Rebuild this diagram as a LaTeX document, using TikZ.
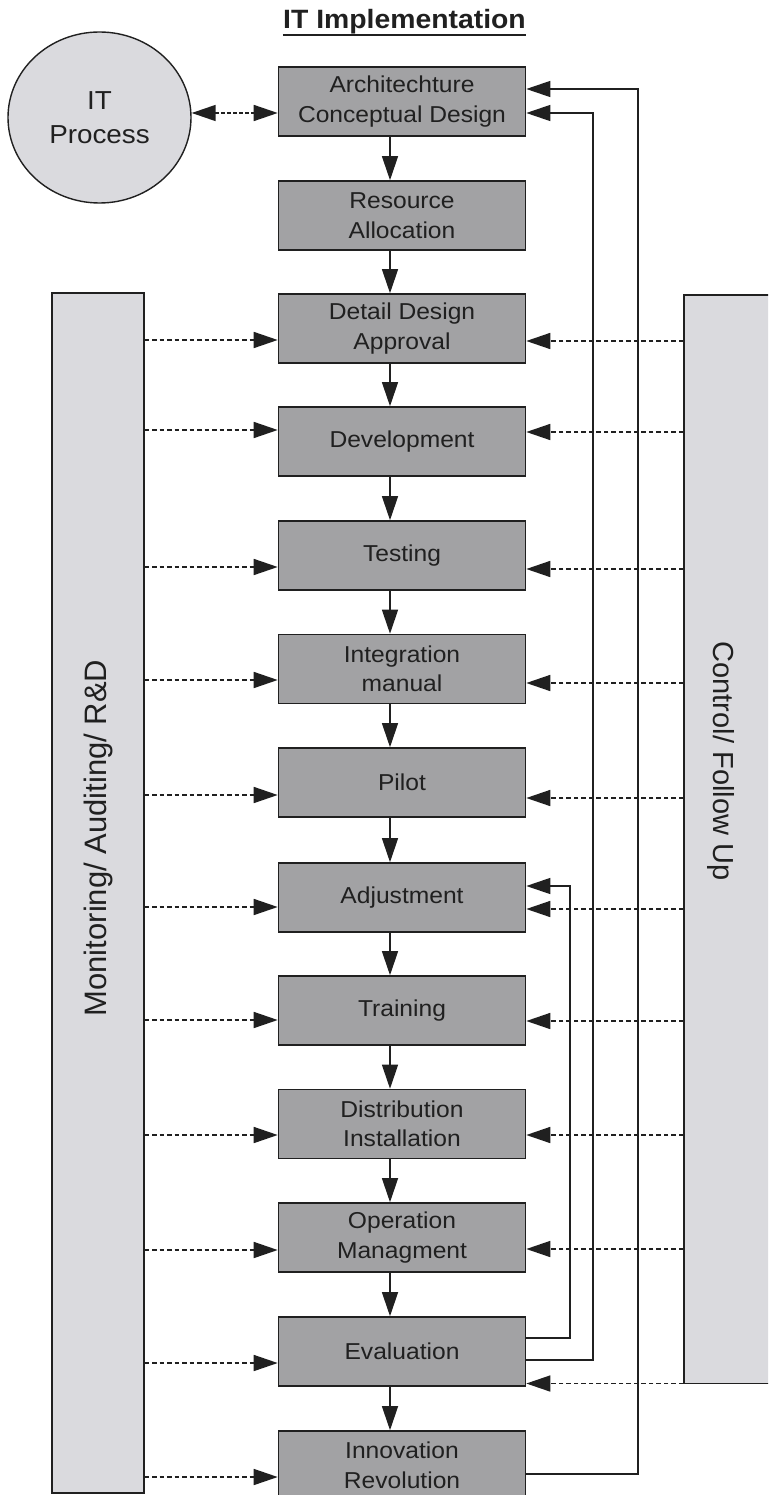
\documentclass[tikz,border=0pt]{standalone}
\usepackage{fontspec}
\setmainfont{Liberation Sans}[FakeStretch=1.07]
\newfontfamily\sidefont{Liberation Sans}
\usetikzlibrary{arrows.meta,shapes.geometric}

\definecolor{boxfill}{RGB}{162,162,164}
\definecolor{sidefill}{RGB}{218,218,222}
\definecolor{ink}{RGB}{32,32,32}

\tikzset{
  stepbox/.style={draw=ink, line width=1.6pt, fill=boxfill, minimum width=247pt,
    minimum height=69pt, inner sep=0pt, align=center,
    font=\fontsize{23}{29.5}\selectfont, text=ink},
  sidebox/.style={draw=ink, line width=1.4pt, fill=sidefill, inner sep=0pt},
  tip/.style={-{Triangle[length=24pt,width=16pt]}},
  flow/.style={draw=ink, line width=1.3pt, tip},
  fb/.style={draw=ink, line width=1.3pt, tip},
  dashlink/.style={draw=ink, line width=1.6pt, dash pattern=on 4.5pt off 3pt, tip},
  sidelabel/.style={text=ink, inner sep=0pt}
}

\begin{document}
\begin{tikzpicture}[x=1pt,y=-1pt]
\useasboundingbox (0,0) rectangle (768,1495);
\clip (0,0) rectangle (768,1495);

% title
\node[anchor=base, inner sep=0pt, font=\fontsize{26.5}{30}\selectfont\bfseries, text=ink]
  (title) at (404.5,29) {IT Implementation};
\draw[ink, line width=1.5pt] ([yshift=-6pt]title.base west) -- ([yshift=-6pt]title.base east);

% side panels
\node[sidebox, minimum width=92pt, minimum height=1200pt] (mon) at (98,893) {};
\node[sidebox, minimum width=106pt, minimum height=1088.5pt] (ctl) at (737,839.25) {};
\node[sidelabel, rotate=90, font=\sidefont\fontsize{31}{34}\selectfont] (monlab) at (98,838)
  {Monitoring/ Auditing/ R\&D};
\node[sidelabel, rotate=-90, font=\sidefont\fontsize{29}{34}\selectfont] (ctllab) at (721,761)
  {Control/ Follow Up};

% IT process
\node[draw=ink, line width=1.4pt, fill=sidefill, ellipse, minimum width=183pt,
  minimum height=171pt, inner sep=0pt, align=center, text=ink,
  font=\fontsize{26}{34}\selectfont] (itp) at (99.5,117.5) {IT\\Process};

% process steps
\node[stepbox] (arch)  at (402,101.5)  {Architechture\\Conceptual Design};
\node[stepbox] (res)   at (402,215.5)  {Resource\\Allocation};
\node[stepbox] (dd)    at (402,328.5)  {Detail Design\\Approval};
\node[stepbox] (dev)   at (402,441.5)  {Development};
\node[stepbox] (test)  at (402,555.5)  {Testing};
\node[stepbox] (integ) at (402,669)    {Integration\\manual};
\node[stepbox] (pilot) at (402,782.5)  {Pilot};
\node[stepbox] (adj)   at (402,897.5)  {Adjustment};
\node[stepbox] (train) at (402,1010.5) {Training};
\node[stepbox] (dist)  at (402,1124)   {Distribution\\Installation};
\node[stepbox] (oper)  at (402,1237.5) {Operation\\Managment};
\node[stepbox] (eval)  at (402,1351.5) {Evaluation};
\node[stepbox] (inn)   at (402,1465.5) {Innovation\\Revolution};

% main flow
\coordinate (ax) at (390,0);
\foreach \a/\b in {arch/res,res/dd,dd/dev,dev/test,test/integ,integ/pilot,pilot/adj,
                   adj/train,train/dist,dist/oper,oper/eval,eval/inn}
  \draw[flow] (\a.south -| ax) -- (\b.north -| ax);

% link to the IT process
\coordinate (p1) at (191,113);
\coordinate (p2) at (0,113);
\draw[dashlink, {Triangle[length=24pt,width=16pt]}-{Triangle[length=24pt,width=16pt]},
  dash pattern=on 3.5pt off 2.5pt] (itp.east |- p1) -- (arch.west |- p2);

% monitoring links
\foreach \b/\yy in {dd/340,dev/430,test/567,integ/680,pilot/795,adj/907,train/1020,
                    dist/1135,oper/1250,eval/1363,inn/1477}{
  \coordinate (lp) at (0,\yy);
  \draw[dashlink] (mon.east |- lp) -- (\b.west |- lp);
}

% control links
\foreach \b/\yy in {dd/341,dev/432,test/569,integ/683,pilot/798,adj/909,train/1021,
                    dist/1135,oper/1249,eval/1383.5}{
  \coordinate (rp) at (0,\yy);
  \draw[dashlink] (ctl.west |- rp) -- (\b.east |- rp);
}

% feedback loops
\coordinate (xA) at (638,0);
\coordinate (xB) at (593,0);
\coordinate (xC) at (570,0);
\coordinate (a1) at (0,89);
\coordinate (a2) at (0,113);
\coordinate (j1) at (0,886);
\coordinate (e1) at (0,1338);
\coordinate (e2) at (0,1360);
\coordinate (i1) at (0,1474);
\draw[fb] (inn.east |- i1) -| (xA |- a1) -- (arch.east |- a1);
\draw[fb] (eval.east |- e2) -| (xB |- a2) -- (arch.east |- a2);
\draw[fb] (eval.east |- e1) -| (xC |- j1) -- (adj.east |- j1);

\end{tikzpicture}
\end{document}
